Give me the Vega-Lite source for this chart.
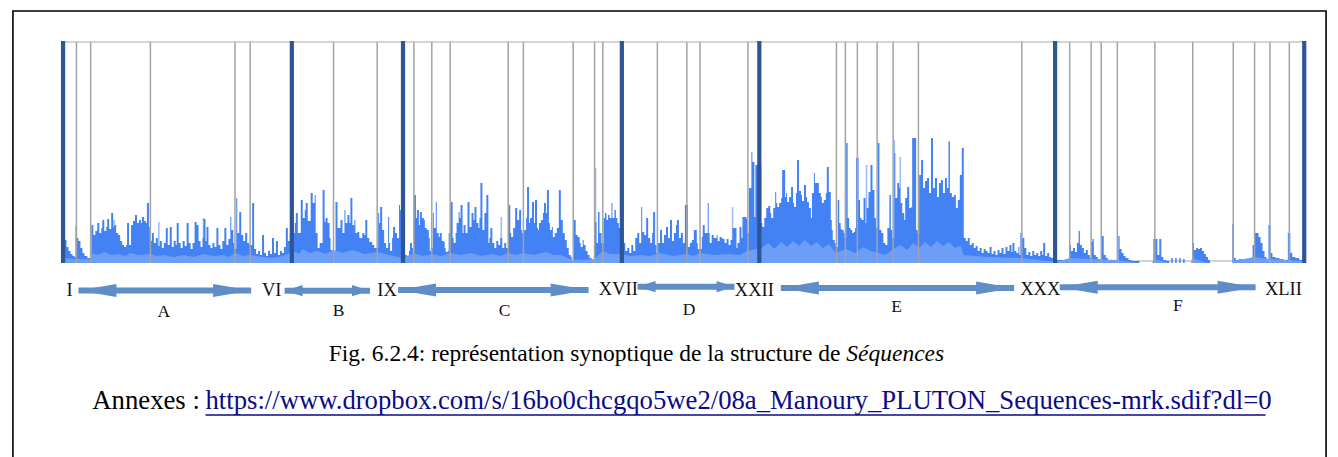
{
  "$schema": "https://vega.github.io/schema/vega-lite/v6.json",
  "width": 1338,
  "height": 457,
  "autosize": "none",
  "padding": 0,
  "background": "white",
  "config": {"view": {"stroke": null}, "font": "Liberation Serif"},
  "datasets": {
    "signal": [
      {"t":0,"a":20},{"t":3,"a":23},{"t":5,"a":16},{"t":7,"a":12},{"t":9,"a":9},{"t":11,"a":7},{"t":13,"a":6},{"t":14,"a":37},{"t":15,"a":25},{"t":17,"a":22},{"t":19,"a":15},{"t":21,"a":10},{"t":23,"a":7},{"t":26,"a":5},
      {"t":30,"a":38},{"t":32,"a":28},{"t":34,"a":32},{"t":36,"a":40},{"t":38,"a":30},{"t":40,"a":35},{"t":41,"a":43},{"t":43,"a":32},{"t":45,"a":36},{"t":46,"a":44},{"t":48,"a":34},{"t":50,"a":50},{"t":52,"a":36},{"t":53,"a":38},{"t":55,"a":30},{"t":57,"a":28},{"t":59,"a":22},{"t":61,"a":18},{"t":63,"a":16},{"t":65,"a":18},{"t":66,"a":40},{"t":68,"a":18},{"t":70,"a":38},{"t":72,"a":42},{"t":74,"a":48},{"t":76,"a":40},{"t":78,"a":43},{"t":80,"a":40},{"t":81,"a":46},{"t":83,"a":42},{"t":85,"a":40},{"t":86,"a":60},{"t":88,"a":36},{"t":89,"a":20},
      {"t":90,"a":22},{"t":91,"a":30},{"t":93,"a":20},{"t":95,"a":25},{"t":97,"a":17},{"t":99,"a":22},{"t":101,"a":15},{"t":103,"a":20},{"t":105,"a":35},{"t":107,"a":18},{"t":109,"a":36},{"t":111,"a":16},{"t":113,"a":22},{"t":115,"a":18},{"t":116,"a":40},{"t":118,"a":20},{"t":120,"a":15},{"t":122,"a":22},{"t":124,"a":17},{"t":126,"a":40},{"t":128,"a":20},{"t":130,"a":14},{"t":132,"a":20},{"t":134,"a":41},{"t":136,"a":38},{"t":138,"a":22},{"t":140,"a":16},{"t":142,"a":25},{"t":143,"a":44},{"t":145,"a":22},{"t":146,"a":36},{"t":148,"a":18},{"t":150,"a":15},{"t":152,"a":20},{"t":154,"a":16},{"t":156,"a":35},{"t":158,"a":18},{"t":160,"a":14},{"t":162,"a":22},{"t":164,"a":35},{"t":166,"a":18},{"t":168,"a":24},{"t":170,"a":46},{"t":171,"a":33},{"t":173,"a":20},{"t":174,"a":14},
      {"t":176,"a":65},{"t":177,"a":30},{"t":179,"a":51},{"t":181,"a":28},{"t":183,"a":22},{"t":185,"a":30},{"t":187,"a":20},{"t":189,"a":18},
      {"t":192,"a":60},{"t":194,"a":14},{"t":196,"a":9},{"t":198,"a":12},{"t":200,"a":8},{"t":202,"a":28},{"t":204,"a":10},{"t":206,"a":7},{"t":208,"a":12},{"t":210,"a":9},{"t":212,"a":25},{"t":214,"a":10},{"t":216,"a":22},{"t":218,"a":8},{"t":220,"a":12},{"t":222,"a":10},{"t":224,"a":16},{"t":226,"a":35},{"t":228,"a":22},{"t":230,"a":30},
      {"t":235,"a":40},{"t":236,"a":50},{"t":238,"a":30},{"t":241,"a":63},{"t":243,"a":45},{"t":245,"a":53},{"t":246,"a":60},{"t":248,"a":42},{"t":251,"a":70},{"t":253,"a":60},{"t":255,"a":68},{"t":256,"a":30},{"t":258,"a":15},{"t":260,"a":20},{"t":263,"a":73},{"t":265,"a":41},{"t":266,"a":45},{"t":268,"a":40},{"t":270,"a":25},{"t":271,"a":13},{"t":273,"a":10},
      {"t":276,"a":61},{"t":278,"a":35},{"t":281,"a":43},{"t":283,"a":30},{"t":285,"a":53},{"t":286,"a":40},{"t":288,"a":48},{"t":290,"a":40},{"t":291,"a":65},{"t":293,"a":38},{"t":295,"a":43},{"t":296,"a":30},{"t":298,"a":31},{"t":300,"a":25},{"t":303,"a":30},{"t":305,"a":28},{"t":306,"a":43},{"t":308,"a":25},{"t":310,"a":21},{"t":313,"a":18},{"t":315,"a":15},
      {"t":319,"a":50},{"t":320,"a":40},{"t":321,"a":56},{"t":323,"a":33},{"t":325,"a":20},{"t":327,"a":15},{"t":329,"a":46},{"t":330,"a":20},{"t":331,"a":12},{"t":333,"a":25},{"t":334,"a":36},{"t":336,"a":30},{"t":338,"a":25},{"t":340,"a":58},{"t":341,"a":53},{"t":342,"a":20},
      {"t":346,"a":8},{"t":348,"a":6},{"t":350,"a":12},{"t":351,"a":20},{"t":353,"a":15},{"t":354,"a":10},
      {"t":355,"a":68},{"t":357,"a":45},{"t":358,"a":53},{"t":360,"a":38},{"t":361,"a":51},{"t":363,"a":45},{"t":365,"a":43},{"t":366,"a":35},{"t":368,"a":33},{"t":370,"a":25},{"t":371,"a":12},{"t":372,"a":15},
      {"t":374,"a":50},{"t":375,"a":35},{"t":377,"a":61},{"t":378,"a":30},{"t":380,"a":26},{"t":381,"a":30},{"t":383,"a":22},{"t":385,"a":21},{"t":386,"a":15},{"t":387,"a":11},{"t":389,"a":12},{"t":390,"a":30},
      {"t":392,"a":61},{"t":394,"a":25},{"t":395,"a":20},{"t":397,"a":30},{"t":398,"a":40},{"t":400,"a":51},{"t":401,"a":45},{"t":402,"a":58},{"t":404,"a":30},{"t":405,"a":38},{"t":407,"a":30},{"t":409,"a":61},{"t":411,"a":36},{"t":413,"a":50},{"t":415,"a":43},{"t":416,"a":56},{"t":418,"a":40},{"t":420,"a":35},{"t":421,"a":45},{"t":422,"a":80},{"t":424,"a":33},{"t":426,"a":50},{"t":428,"a":68},{"t":430,"a":20},{"t":431,"a":25},{"t":432,"a":35},{"t":434,"a":20},{"t":436,"a":15},{"t":438,"a":22},{"t":440,"a":18},{"t":442,"a":25},{"t":444,"a":15},{"t":446,"a":20},{"t":448,"a":15},
      {"t":450,"a":58},{"t":452,"a":30},{"t":453,"a":26},{"t":455,"a":35},{"t":457,"a":55},{"t":459,"a":43},{"t":461,"a":53},{"t":463,"a":33},{"t":464,"a":30},
      {"t":466,"a":33},{"t":468,"a":45},{"t":469,"a":76},{"t":471,"a":40},{"t":472,"a":45},{"t":474,"a":61},{"t":476,"a":40},{"t":477,"a":63},{"t":479,"a":35},{"t":480,"a":33},{"t":481,"a":40},{"t":483,"a":43},{"t":485,"a":50},{"t":486,"a":60},{"t":488,"a":50},{"t":489,"a":73},{"t":491,"a":40},{"t":492,"a":33},{"t":494,"a":36},{"t":495,"a":26},{"t":497,"a":30},{"t":499,"a":35},{"t":501,"a":73},{"t":503,"a":43},{"t":505,"a":30},{"t":507,"a":23},{"t":509,"a":15},{"t":511,"a":8},{"t":513,"a":6},{"t":514,"a":3},
      {"t":516,"a":43},{"t":518,"a":28},{"t":520,"a":26},{"t":522,"a":20},{"t":523,"a":16},{"t":525,"a":23},{"t":526,"a":18},{"t":528,"a":12},{"t":530,"a":8},{"t":532,"a":5},{"t":534,"a":3},{"t":536,"a":2},
      {"t":537.5,"a":41},{"t":539,"a":20},{"t":540.5,"a":51},{"t":542,"a":30},{"t":544,"a":20},
      {"t":546,"a":45},{"t":547.5,"a":50},{"t":549,"a":43},{"t":550.5,"a":48},{"t":552,"a":45},{"t":554,"a":60},{"t":555,"a":45},{"t":557,"a":53},{"t":558.5,"a":45},{"t":560,"a":40},{"t":561.5,"a":35},
      {"t":566,"a":20},{"t":568,"a":12},{"t":570,"a":15},{"t":572,"a":10},{"t":574,"a":18},{"t":576,"a":12},{"t":578,"a":25},{"t":580,"a":30},{"t":582,"a":20},{"t":584,"a":56},{"t":585,"a":31},{"t":587,"a":28},{"t":589,"a":45},{"t":591,"a":25},{"t":593,"a":20},{"t":595,"a":30},{"t":596,"a":51},{"t":598,"a":18},{"t":599.5,"a":10},
      {"t":601,"a":20},{"t":603,"a":33},{"t":605,"a":20},{"t":607,"a":28},{"t":609,"a":36},{"t":611,"a":25},{"t":613,"a":43},{"t":615,"a":22},{"t":617,"a":30},{"t":619,"a":38},{"t":620,"a":43},{"t":622,"a":25},{"t":624,"a":30},{"t":626,"a":20},{"t":628,"a":58},
      {"t":631,"a":16},{"t":633,"a":20},{"t":635,"a":23},{"t":637,"a":33},{"t":640,"a":20},{"t":641,"a":14},
      {"t":645,"a":26},{"t":646,"a":38},{"t":648,"a":30},{"t":651,"a":60},{"t":652,"a":30},{"t":653,"a":20},{"t":655,"a":28},{"t":657,"a":25},{"t":660,"a":28},{"t":661,"a":22},{"t":663,"a":26},{"t":665,"a":25},{"t":666,"a":24},{"t":668,"a":20},{"t":670,"a":24},{"t":672,"a":18},{"t":674,"a":23},{"t":676,"a":35},{"t":677,"a":35},{"t":680,"a":15},{"t":681,"a":20},{"t":683,"a":36},{"t":685,"a":25},{"t":686,"a":46},{"t":688,"a":46},{"t":690,"a":44},{"t":691,"a":30},
      {"t":692.5,"a":75},{"t":695,"a":111},{"t":696,"a":101},{"t":698,"a":46},{"t":699,"a":98},{"t":700,"a":98},{"t":705,"a":40},
      {"t":706,"a":36},{"t":708,"a":45},{"t":710,"a":55},{"t":712,"a":57},{"t":714,"a":50},{"t":715,"a":45},{"t":717,"a":55},{"t":719,"a":71},{"t":720,"a":60},{"t":721,"a":56},{"t":723,"a":60},{"t":725,"a":65},{"t":726,"a":93},{"t":729,"a":66},{"t":730,"a":70},{"t":731,"a":61},{"t":733,"a":66},{"t":735,"a":76},{"t":737,"a":60},{"t":738,"a":56},{"t":740,"a":70},{"t":741,"a":103},{"t":743,"a":72},{"t":745,"a":68},{"t":746,"a":62},{"t":748,"a":78},{"t":750,"a":66},{"t":751,"a":61},{"t":753,"a":55},{"t":755,"a":45},{"t":756,"a":70},{"t":758,"a":90},{"t":759,"a":80},{"t":761,"a":80},{"t":763,"a":70},{"t":765,"a":66},{"t":766,"a":60},{"t":768,"a":63},{"t":770,"a":70},{"t":771,"a":96},{"t":773,"a":71},{"t":775,"a":43},{"t":776,"a":33},{"t":777,"a":23},{"t":779,"a":20},{"t":780,"a":16},
      {"t":782,"a":63},{"t":783.5,"a":40},{"t":785,"a":34},{"t":786,"a":33},{"t":788,"a":30},{"t":789,"a":25},
      {"t":790.5,"a":120},{"t":792,"a":45},{"t":793.5,"a":35},{"t":795,"a":33},{"t":796.5,"a":30},{"t":798,"a":31},{"t":799.5,"a":35},{"t":800.5,"a":105},
      {"t":803,"a":63},{"t":804.5,"a":45},{"t":806,"a":43},{"t":808,"a":65},{"t":810,"a":40},{"t":811,"a":55},{"t":813,"a":71},{"t":815,"a":98},{"t":817,"a":73},{"t":819,"a":45},{"t":820.5,"a":35},
      {"t":822.3,"a":120},{"t":824,"a":33},{"t":826,"a":30},{"t":828,"a":20},{"t":830,"a":18},{"t":832,"a":35},{"t":834,"a":68},{"t":835.5,"a":33},{"t":837,"a":25},
      {"t":839,"a":110},{"t":840,"a":65},{"t":842,"a":80},{"t":844,"a":75},{"t":845,"a":60},{"t":847,"a":50},{"t":849,"a":43},{"t":850,"a":65},{"t":852,"a":76},{"t":854,"a":55},{"t":856,"a":56},{"t":857,"a":125},{"t":860,"a":125},{"t":861,"a":33},{"t":862.5,"a":30},
      {"t":864,"a":88},{"t":866,"a":103},{"t":868,"a":75},{"t":870,"a":82},{"t":872,"a":85},{"t":874,"a":70},{"t":876,"a":125},{"t":878,"a":75},{"t":880,"a":85},{"t":882,"a":66},{"t":884,"a":80},{"t":886,"a":83},{"t":888,"a":70},{"t":890,"a":85},{"t":892,"a":75},{"t":894,"a":121},{"t":895,"a":70},{"t":897,"a":66},{"t":899,"a":68},{"t":901,"a":55},{"t":903,"a":63},{"t":905,"a":88},{"t":907,"a":115},
      {"t":909,"a":25},{"t":911,"a":22},{"t":913,"a":25},{"t":915,"a":18},{"t":917,"a":20},{"t":919,"a":15},{"t":921,"a":17},{"t":923,"a":12},{"t":925,"a":15},{"t":927,"a":10},{"t":929,"a":14},{"t":931,"a":12},{"t":933,"a":10},{"t":935,"a":16},{"t":937,"a":9},{"t":939,"a":12},{"t":941,"a":8},{"t":943,"a":13},{"t":945,"a":10},{"t":947,"a":15},{"t":949,"a":9},{"t":951,"a":16},{"t":953,"a":12},{"t":955,"a":18},{"t":957,"a":11},{"t":958,"a":20},{"t":960,"a":12},{"t":962,"a":10},{"t":964,"a":16},{"t":965,"a":8},{"t":966,"a":30},
      {"t":968,"a":25},{"t":970,"a":15},{"t":972,"a":8},{"t":974,"a":11},{"t":976,"a":7},{"t":978,"a":12},{"t":980,"a":8},{"t":982,"a":10},{"t":984,"a":7},{"t":986,"a":12},{"t":988,"a":8},{"t":989,"a":20},{"t":991,"a":7},{"t":993,"a":10},{"t":995,"a":6},{"t":997,"a":5},{"t":999,"a":3},
      {"t":1003,"a":3},{"t":1009,"a":3},{"t":1013,"a":2},{"t":1016,"a":18},{"t":1017,"a":12},{"t":1019,"a":15},{"t":1021,"a":11},{"t":1023,"a":20},{"t":1024.7,"a":32},{"t":1026,"a":18},{"t":1028,"a":15},{"t":1030,"a":10},{"t":1032,"a":13},{"t":1034,"a":8},{"t":1036,"a":5},
      {"t":1037.5,"a":21},{"t":1038.7,"a":24},{"t":1040,"a":8},{"t":1042,"a":6},{"t":1044,"a":4},{"t":1046,"a":3},
      {"t":1048.3,"a":27},{"t":1050,"a":8},{"t":1052,"a":5},{"t":1054,"a":3},{"t":1056,"a":2},{"t":1061,"a":2},
      {"t":1064.7,"a":27},{"t":1066,"a":14},{"t":1068,"a":10},{"t":1070,"a":7},{"t":1072,"a":5},{"t":1075,"a":3},{"t":1078,"a":2},{"t":1083,"a":2},{"t":1086,"a":0},
      {"t":1100,"a":24},{"t":1102,"a":24},{"t":1104,"a":8},{"t":1106,"a":24},{"t":1108,"a":6},{"t":1110,"a":3},{"t":1113,"a":2},{"t":1116,"a":0},{"t":1118,"a":5},{"t":1119.5,"a":0},{"t":1122,"a":5},{"t":1123.5,"a":0},{"t":1126,"a":5},{"t":1127.5,"a":0},{"t":1130,"a":4},{"t":1131.5,"a":0},
      {"t":1139,"a":20},{"t":1141,"a":13},{"t":1143,"a":15},{"t":1145,"a":14},{"t":1147,"a":15},{"t":1149,"a":12},{"t":1151,"a":9},{"t":1153,"a":6},{"t":1155,"a":3},{"t":1157,"a":0},
      {"t":1179.5,"a":39},{"t":1181,"a":5},{"t":1183,"a":3},{"t":1186,"a":4},{"t":1189,"a":2},{"t":1193,"a":3},{"t":1197,"a":2},
      {"t":1200,"a":18},{"t":1202,"a":30},{"t":1204,"a":30},{"t":1206,"a":26},{"t":1208,"a":20},{"t":1210,"a":12},{"t":1212,"a":6},{"t":1214,"a":4},{"t":1216,"a":38},{"t":1218,"a":10},{"t":1220,"a":6},{"t":1223,"a":5},{"t":1227,"a":4},{"t":1231,"a":3},{"t":1235.5,"a":30},{"t":1238,"a":10},{"t":1240,"a":6},{"t":1243,"a":5},{"t":1247,"a":3},{"t":1249,"a":3},{"t":1251,"a":0}
    ],
    "base": [
      {"t":1,"a":0},{"t":3,"a":5},{"t":13,"a":4},{"t":29,"a":4},{"t":30,"a":10},{"t":37,"a":8},{"t":43,"a":11},{"t":50,"a":8},{"t":58,"a":9},{"t":64,"a":7},{"t":69,"a":10},{"t":78,"a":8},{"t":89,"a":9},{"t":96,"a":7},{"t":103,"a":8},{"t":113,"a":6},{"t":123,"a":8},{"t":133,"a":6},{"t":143,"a":9},{"t":153,"a":7},{"t":163,"a":8},{"t":169,"a":6},{"t":175,"a":10},{"t":183,"a":7},{"t":190,"a":8},{"t":203,"a":6},{"t":213,"a":5},{"t":223,"a":7},{"t":234,"a":12},{"t":239,"a":9},{"t":243,"a":14},{"t":250,"a":10},{"t":258,"a":12},{"t":266,"a":9},{"t":274,"a":13},{"t":283,"a":10},{"t":293,"a":13},{"t":305,"a":9},{"t":318,"a":11},{"t":330,"a":8},{"t":344,"a":5},{"t":355,"a":10},{"t":364,"a":7},{"t":373,"a":9},{"t":382,"a":7},{"t":391,"a":10},{"t":402,"a":8},{"t":413,"a":10},{"t":423,"a":7},{"t":433,"a":9},{"t":442,"a":7},{"t":450,"a":10},{"t":458,"a":8},{"t":465,"a":10},{"t":476,"a":8},{"t":488,"a":11},{"t":496,"a":8},{"t":503,"a":8},{"t":515,"a":3},{"t":537,"a":4},{"t":545,"a":12},{"t":553,"a":9},{"t":563,"a":9},{"t":573,"a":7},{"t":583,"a":8},{"t":593,"a":7},{"t":603,"a":10},{"t":616,"a":7},{"t":630,"a":9},{"t":637,"a":7},{"t":643,"a":10},{"t":658,"a":8},{"t":673,"a":9},{"t":683,"a":8},{"t":691,"a":12},
      {"t":705,"a":15},{"t":712,"a":20},{"t":718,"a":14},{"t":725,"a":21},{"t":731,"a":16},{"t":737,"a":22},{"t":743,"a":17},{"t":749,"a":23},{"t":755,"a":17},{"t":761,"a":21},{"t":767,"a":15},{"t":773,"a":19},{"t":780,"a":10},{"t":790,"a":14},{"t":800,"a":10},{"t":808,"a":16},{"t":815,"a":12},{"t":823,"a":10},{"t":830,"a":8},{"t":838,"a":14},{"t":845,"a":18},{"t":852,"a":13},{"t":858,"a":20},{"t":864,"a":15},{"t":870,"a":21},{"t":876,"a":16},{"t":882,"a":22},{"t":888,"a":17},{"t":894,"a":21},{"t":900,"a":15},{"t":906,"a":17},{"t":909,"a":8},{"t":933,"a":6},{"t":967,"a":5},{"t":1002,"a":1},{"t":1016,"a":5},{"t":1037,"a":4},{"t":1064,"a":3},{"t":1083,"a":0},{"t":1099,"a":0},{"t":1100,"a":4},{"t":1113,"a":1},{"t":1115,"a":0},{"t":1138,"a":0},{"t":1139,"a":5},{"t":1155,"a":0},{"t":1179,"a":0},{"t":1180,"a":2},{"t":1202,"a":6},{"t":1216,"a":4},{"t":1237,"a":3},{"t":1249,"a":2},{"t":1251,"a":0}
    ],
    "ghost": [
      {"t":53,"a":43},{"t":98,"a":41},{"t":143,"a":45},{"t":443,"a":46},{"t":538,"a":95},{"t":676,"a":56},{"t":811,"a":98},{"t":839,"a":123},{"t":845,"a":106},{"t":894,"a":122}
    ],
    "dividers": [
      {"t":15},{"t":29.3},{"t":89.5},{"t":174.7},{"t":190},{"t":274},{"t":318},{"t":355},{"t":373},{"t":391.5},{"t":450},{"t":465.3},{"t":515.5},{"t":537},{"t":545.3},{"t":600.3},{"t":630},{"t":643.3},{"t":691.5},{"t":780.7},{"t":789.7},{"t":801.8},{"t":821.7},{"t":837.8},{"t":863.3},{"t":967.5},{"t":1015.7},{"t":1037.3},{"t":1047.5},{"t":1063.7},{"t":1101.5},{"t":1139.7},{"t":1180.5},{"t":1202},{"t":1217.5},{"t":1237}
    ],
    "sections": [
      {"name":"I","t":1.5,"lt":8,"lv":-27},
      {"name":"VI","t":232,"lt":211.7,"lv":-27},
      {"name":"IX","t":344,"lt":328,"lv":-27},
      {"name":"XVII","t":564.5,"lt":561,"lv":-25.5},
      {"name":"XXII","t":703,"lt":698,"lv":-27},
      {"name":"XXX","t":1001,"lt":986,"lv":-25.5},
      {"name":"XLII","t":1252,"lt":1231,"lv":-25.5}
    ],
    "parts": [
      {"letter":"A","from":17,"to":191,"v":-27.5,"lt":103,"lv":-48.7},
      {"letter":"B","from":224.7,"to":310.7,"v":-27.7,"lt":279,"lv":-48},
      {"letter":"C","from":339,"to":531,"v":-27,"lt":446.3,"lv":-47.7},
      {"letter":"D","from":580.3,"to":678,"v":-23.7,"lt":632.3,"lv":-47},
      {"letter":"E","from":724.7,"to":959.7,"v":-25,"lt":841.3,"lv":-43.7},
      {"letter":"F","from":1005.7,"to":1203,"v":-24.3,"lt":1124.7,"lv":-42.7}
    ],
    "notes": [
      {"id":"caption","text":"Fig. 6.2.4: représentation synoptique de la structure de","t":784.7,"v":-98},
      {"id":"title","text":"Séquences","t":790.6,"v":-98},
      {"id":"annexes","text":"Annexes :","t":31,"v":-146},
      {"id":"link","text":"https://www.dropbox.com/s/16bo0chcgqo5we2/08a_Manoury_PLUTON_Sequences-mrk.sdif?dl=0","t":145,"v":-146,"t2":1213,"uv":-152}
    ],
    "frame": [{"x1": -49, "x2": 1274, "y1": 252, "y2": -240}],
    "guides": [{"from": 0, "to": 1254, "low": 2, "top": 221}]
  },
  "layer": [
    {
      "data": {"name": "frame"},
      "mark": {"type": "rect", "fillOpacity": 0, "stroke": "#000000", "strokeWidth": 1.6},
      "encoding": {
        "x": {"field": "x1", "type": "quantitative", "scale": {"domain": [-57, 1281], "nice": false, "zero": false}, "axis": null},
        "x2": {"field": "x2"},
        "y": {"field": "y1", "type": "quantitative", "scale": {"domain": [-194, 263], "nice": false, "zero": false}, "axis": null},
        "y2": {"field": "y2"}
      }
    },
    {
      "data": {"name": "guides"},
      "mark": {"type": "rule", "color": "#c4c4c4", "strokeWidth": 1.5},
      "encoding": {
        "x": {"field": "from", "type": "quantitative"},
        "x2": {"field": "to"},
        "y": {"field": "low", "type": "quantitative"}
      }
    },
    {
      "data": {"name": "ghost"},
      "mark": {"type": "bar", "color": "#9fbef9", "width": 1.6},
      "encoding": {
        "x": {"field": "t", "type": "quantitative"},
        "y": {"field": "a", "type": "quantitative"}
      }
    },
    {
      "data": {"name": "signal"},
      "mark": {"type": "area", "interpolate": "step-after", "color": "#4282f5", "opacity": 1},
      "encoding": {
        "x": {"field": "t", "type": "quantitative"},
        "y": {"field": "a", "type": "quantitative"}
      }
    },
    {
      "data": {"name": "base"},
      "mark": {"type": "area", "interpolate": "linear", "color": "#6c9ef7", "opacity": 1},
      "encoding": {
        "x": {"field": "t", "type": "quantitative"},
        "y": {"field": "a", "type": "quantitative"}
      }
    },
    {
      "data": {"name": "guides"},
      "mark": {"type": "rule", "color": "#c6c6c6", "strokeWidth": 1.6},
      "encoding": {
        "x": {"field": "from", "type": "quantitative"},
        "x2": {"field": "to"},
        "y": {"field": "top", "type": "quantitative"}
      }
    },
    {
      "data": {"name": "dividers"},
      "mark": {"type": "bar", "color": "#a3a3a3", "width": 1.5},
      "encoding": {
        "x": {"field": "t", "type": "quantitative"},
        "y": {"datum": 221, "type": "quantitative"}
      }
    },
    {
      "data": {"name": "sections"},
      "mark": {"type": "bar", "color": "#2e5597", "width": 4.2},
      "encoding": {
        "x": {"field": "t", "type": "quantitative"},
        "y": {"datum": 222, "type": "quantitative"}
      }
    },
    {
      "data": {"name": "sections"},
      "mark": {"type": "text", "font": "Liberation Serif", "fontSize": 18.5, "color": "#111111", "align": "center", "baseline": "middle"},
      "encoding": {
        "x": {"field": "lt", "type": "quantitative"},
        "y": {"field": "lv", "type": "quantitative"},
        "text": {"field": "name"}
      }
    },
    {
      "data": {"name": "parts"},
      "mark": {"type": "rule", "color": "#5f8dc8", "strokeWidth": 6},
      "encoding": {
        "x": {"field": "from", "type": "quantitative"},
        "x2": {"field": "to"},
        "y": {"field": "v", "type": "quantitative"}
      }
    },
    {
      "data": {"name": "parts"},
      "transform": [{"filter": "datum.letter != 'B' && datum.letter != 'D'"}],
      "mark": {"type": "point", "shape": "M0,0L2,-0.34L2,0.34Z", "size": 1444, "filled": true, "color": "#5f8dc8", "opacity": 1, "strokeWidth": 0},
      "encoding": {
        "x": {"field": "from", "type": "quantitative"},
        "y": {"field": "v", "type": "quantitative"}
      }
    },
    {
      "data": {"name": "parts"},
      "transform": [{"filter": "datum.letter != 'B' && datum.letter != 'D'"}],
      "mark": {"type": "point", "shape": "M0,0L-2,-0.34L-2,0.34Z", "size": 1444, "filled": true, "color": "#5f8dc8", "opacity": 1, "strokeWidth": 0},
      "encoding": {
        "x": {"field": "to", "type": "quantitative"},
        "y": {"field": "v", "type": "quantitative"}
      }
    },
    {
      "data": {"name": "parts"},
      "transform": [{"filter": "datum.letter == 'B' || datum.letter == 'D'"}],
      "mark": {"type": "point", "shape": "M0,0L2,-0.62L2,0.62Z", "size": 324, "filled": true, "color": "#5f8dc8", "opacity": 1, "strokeWidth": 0},
      "encoding": {
        "x": {"field": "from", "type": "quantitative"},
        "y": {"field": "v", "type": "quantitative"}
      }
    },
    {
      "data": {"name": "parts"},
      "transform": [{"filter": "datum.letter == 'B' || datum.letter == 'D'"}],
      "mark": {"type": "point", "shape": "M0,0L-2,-0.62L-2,0.62Z", "size": 324, "filled": true, "color": "#5f8dc8", "opacity": 1, "strokeWidth": 0},
      "encoding": {
        "x": {"field": "to", "type": "quantitative"},
        "y": {"field": "v", "type": "quantitative"}
      }
    },
    {
      "data": {"name": "parts"},
      "mark": {"type": "text", "font": "Liberation Serif", "fontSize": 17.5, "color": "#111111", "align": "center", "baseline": "middle"},
      "encoding": {
        "x": {"field": "lt", "type": "quantitative"},
        "y": {"field": "lv", "type": "quantitative"},
        "text": {"field": "letter"}
      }
    },
    {
      "data": {"name": "notes"},
      "transform": [{"filter": "datum.id == 'caption'"}],
      "mark": {"type": "text", "font": "Liberation Serif", "fontSize": 23.5, "color": "#000000", "align": "right", "baseline": "alphabetic"},
      "encoding": {
        "x": {"field": "t", "type": "quantitative"},
        "y": {"field": "v", "type": "quantitative"},
        "text": {"field": "text"}
      }
    },
    {
      "data": {"name": "notes"},
      "transform": [{"filter": "datum.id == 'title'"}],
      "mark": {"type": "text", "font": "Liberation Serif", "fontSize": 23.5, "fontStyle": "italic", "color": "#000000", "align": "left", "baseline": "alphabetic"},
      "encoding": {
        "x": {"field": "t", "type": "quantitative"},
        "y": {"field": "v", "type": "quantitative"},
        "text": {"field": "text"}
      }
    },
    {
      "data": {"name": "notes"},
      "transform": [{"filter": "datum.id == 'annexes'"}],
      "mark": {"type": "text", "font": "Liberation Serif", "fontSize": 26.7, "color": "#000000", "align": "left", "baseline": "alphabetic"},
      "encoding": {
        "x": {"field": "t", "type": "quantitative"},
        "y": {"field": "v", "type": "quantitative"},
        "text": {"field": "text"}
      }
    },
    {
      "data": {"name": "notes"},
      "transform": [{"filter": "datum.id == 'link'"}],
      "mark": {"type": "text", "font": "Liberation Serif", "fontSize": 26.7, "color": "#0a0a8a", "align": "left", "baseline": "alphabetic"},
      "encoding": {
        "x": {"field": "t", "type": "quantitative"},
        "y": {"field": "v", "type": "quantitative"},
        "text": {"field": "text"}
      }
    },
    {
      "data": {"name": "notes"},
      "transform": [{"filter": "datum.id == 'link'"}],
      "mark": {"type": "rule", "color": "#0a0a8a", "strokeWidth": 1.6},
      "encoding": {
        "x": {"field": "t", "type": "quantitative"},
        "x2": {"field": "t2"},
        "y": {"field": "uv", "type": "quantitative"}
      }
    }
  ]
}
